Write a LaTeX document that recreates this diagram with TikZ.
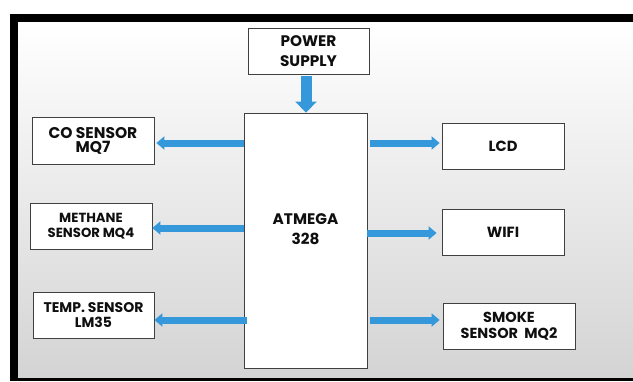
\documentclass[tikz,border=0pt]{standalone}
\usepackage{fontspec}
\setmainfont{Poppins}
\usetikzlibrary{arrows.meta}
\definecolor{arrowblue}{RGB}{52,152,219}
\definecolor{txt}{RGB}{15,15,15}
\tikzset{
  box/.style={draw=black!75, line width=0.8pt, fill=white, align=center, inner sep=0pt,
    text=txt, font=\bfseries\fontsize{14.7}{15}\selectfont},
  bigtext/.style={align=center, inner sep=0pt, text=txt, font=\bfseries\fontsize{15.3}{20}\selectfont},
  harrow/.style={draw=arrowblue, line width=7pt, -{Triangle[length=8pt,width=13pt]}},
  varrow/.style={draw=arrowblue, line width=11pt, -{Triangle[length=11pt,width=21pt]}}
}
\begin{document}
\begin{tikzpicture}[x=1pt,y=-1pt]
\useasboundingbox (0,0) rectangle (633,381);
\fill[white] (0,0) rectangle (633,381);
\fill[black!8] (17.5,22) rectangle (633,378);
\shade[top color=white, bottom color=black!17] (17.5,22) rectangle (633,378);
\fill[black] (10,14) rectangle (633,22);
\fill[black] (10,14) rectangle (17.5,381);
\fill[black] (10,378) rectangle (633,381);

\node[box, minimum width=121pt, minimum height=46pt, font=\bfseries\fontsize{15.3}{19.5}\selectfont] (pow) at (308.5,51) {POWER\\SUPPLY};
\node[box, minimum width=123pt, minimum height=255pt] (atm) at (305.5,240.5) {};
\node[bigtext] (atmt) at (305.5,229) {ATMEGA\\328};

\node[box, minimum width=122pt, minimum height=47pt, font=\bfseries\fontsize{15.5}{14}\selectfont] (co) at (93,140.5) {CO SENSOR\\MQ7};
\node[box, minimum width=122pt, minimum height=46pt, font=\bfseries\fontsize{13.2}{15}\selectfont] (meth) at (91,226) {METHANE\\SENSOR MQ4};
\node[box, minimum width=121pt, minimum height=46pt, font=\bfseries\fontsize{14}{15.5}\selectfont] (temp) at (93.5,315) {TEMP. SENSOR\\LM35};
\node[box, minimum width=122pt, minimum height=46pt] (lcd) at (503,146) {LCD};
\node[box, minimum width=122pt, minimum height=46pt] (wifi) at (503,232) {WIFI};
\node[box, minimum width=132pt, minimum height=46pt, font=\bfseries\fontsize{14.5}{15.5}\selectfont] (smoke) at (509,326) {SMOKE\\SENSOR\ \ MQ2};

\coordinate (powS) at ([xshift=-2.5pt]pow.south);
\draw[varrow, shorten <=2pt] (powS) -- (powS |- atm.north);

\coordinate (coA) at ([yshift=-2.5pt]co.east);
\coordinate (methA) at ([yshift=-2pt]meth.east);
\coordinate (tempA) at ([yshift=-5pt]temp.east);
\coordinate (lcdA) at ([yshift=3pt]lcd.west);
\coordinate (wifiA) at ([yshift=-1pt]wifi.west);
\coordinate (smokeA) at ([yshift=6pt]smoke.west);

\draw[harrow, shorten >=2pt] (coA -| atm.west) -- (coA);
\draw[harrow] (methA -| atm.west) -- (methA);
\draw[harrow, shorten <=-3pt] (tempA -| atm.west) -- (tempA);
\draw[harrow, shorten <=3pt, shorten >=2pt] (lcdA -| atm.east) -- (lcdA);
\draw[harrow, shorten >=5pt] (wifiA -| atm.east) -- (wifiA);
\draw[harrow, shorten <=3pt, shorten >=3pt] (smokeA -| atm.east) -- (smokeA);
\end{tikzpicture}
\end{document}
